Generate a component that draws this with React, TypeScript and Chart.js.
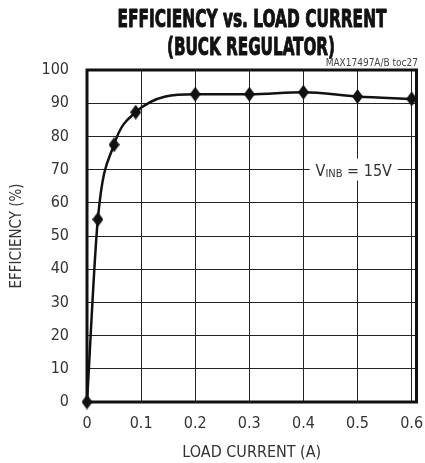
import React, { useEffect, useRef } from "react";
import { Chart, registerables } from "chart.js";

Chart.register(...registerables);

const loadCurrent = [0, 0.02, 0.05, 0.09, 0.2, 0.3, 0.4, 0.5, 0.6];
const efficiency = [0, 55, 77.5, 87.3, 92.7, 92.7, 93.3, 92, 91.3];
const xTicks = [0, 0.1, 0.2, 0.3, 0.4, 0.5, 0.6];
const yTicks = [0, 10, 20, 30, 40, 50, 60, 70, 80, 90, 100];
const titleLines = ["EFFICIENCY vs. LOAD CURRENT", "(BUCK REGULATOR)"];
const noteText = "MAX17497A/B toc27";

const NARROW = "'Liberation Sans Narrow', 'DejaVu Sans Condensed', 'Liberation Sans', sans-serif";

function makeDiamond(): HTMLCanvasElement {
  const c = document.createElement("canvas");
  c.width = 11;
  c.height = 15;
  const g = c.getContext("2d")!;
  g.fillStyle = "#111";
  g.beginPath();
  g.moveTo(5.5, 0);
  g.lineTo(11, 7.5);
  g.lineTo(5.5, 15);
  g.lineTo(0, 7.5);
  g.closePath();
  g.fill();
  return c;
}

function drawFitted(ctx: CanvasRenderingContext2D, text: string, cx: number, baseline: number, width: number) {
  const w = ctx.measureText(text).width;
  const s = width / w;
  ctx.save();
  ctx.translate(cx, baseline);
  ctx.scale(s, 1);
  ctx.textAlign = "center";
  ctx.textBaseline = "alphabetic";
  ctx.lineJoin = "round";
  ctx.lineWidth = 0.9;
  ctx.strokeText(text, 0, 0);
  ctx.fillText(text, 0, 0);
  ctx.restore();
}

const decorPlugin = {
  id: "decor",
  beforeDatasetsDraw(chart: any) {
    const { ctx, chartArea, scales } = chart;
    const { left, right, top, bottom } = chartArea;
    ctx.save();
    // annotation
    const y70 = scales.y.getPixelForValue(70);
    const cx = scales.x.getPixelForValue(0.493);
    ctx.fillStyle = "#fff";
    ctx.fillRect(cx - 44, y70 - 11, 88, 22);
    ctx.fillStyle = "#333";
    ctx.textBaseline = "alphabetic";
    ctx.textAlign = "left";
    const big = `16px ${NARROW}`;
    const small = `11px ${NARROW}`;
    ctx.font = big;
    const wV = ctx.measureText("V").width;
    ctx.font = small;
    const wSub = ctx.measureText("INB").width;
    ctx.font = big;
    const wRest = ctx.measureText(" = 15V").width;
    const total = wV + wSub + wRest;
    let x = cx - total / 2;
    const base = y70 + 6;
    ctx.fillText("V", x, base);
    x += wV;
    ctx.font = small;
    ctx.fillText("INB", x, base + 1);
    x += wSub;
    ctx.font = big;
    ctx.fillText(" = 15V", x, base);
    // border
    ctx.strokeStyle = "#111";
    ctx.lineWidth = 3;
    ctx.strokeRect(left, top, right - left, bottom - top);
    ctx.restore();
  },
  afterDraw(chart: any) {
    const { ctx } = chart;
    ctx.save();
    ctx.fillStyle = "#111";
    ctx.strokeStyle = "#111";
    ctx.font = `bold 24px ${NARROW}`;
    drawFitted(ctx, titleLines[0], 252, 27, 269);
    drawFitted(ctx, titleLines[1], 251, 55, 168);
    ctx.fillStyle = "#444";
    ctx.font = `10px ${NARROW}`;
    ctx.textAlign = "right";
    ctx.textBaseline = "alphabetic";
    ctx.fillText(noteText, 418, 66);
    ctx.restore();
  },
};

export default function App() {
  const ref = useRef<HTMLCanvasElement | null>(null);
  useEffect(() => {
    if (!ref.current) return;
    const diamond = makeDiamond();
    const chart = new Chart(ref.current, {
      type: "line",
      data: {
        datasets: [
          {
            data: loadCurrent.map((x, i) => ({ x, y: efficiency[i] })),
            borderColor: "#111",
            backgroundColor: "#111",
            borderWidth: 2.5,
            cubicInterpolationMode: "monotone",
            pointStyle: diamond as any,
            pointRadius: 6,
            clip: 20 as any,
          },
        ],
      },
      options: {
        animation: false,
        responsive: false,
        maintainAspectRatio: false,
        layout: { padding: { top: 70, right: 7, left: 0, bottom: 0 } },
        plugins: { legend: { display: false }, tooltip: { enabled: false }, title: { display: false } },
        scales: {
          x: {
            type: "linear",
            min: 0,
            max: 0.609,
            afterBuildTicks: (s: any) => {
              s.ticks = xTicks.map((v) => ({ value: v }));
            },
            afterFit: (s: any) => {
              s.height = 61;
              s.paddingLeft = 0;
              s.paddingRight = 0;
            },
            ticks: {
              includeBounds: false,
              padding: 12,
              color: "#333",
              font: { family: NARROW, size: 16 },
              callback: (v: any) => String(Math.round(Number(v) * 10) / 10),
            },
            grid: { color: "#222", lineWidth: 1, drawTicks: false },
            border: { display: false },
            title: {
              display: true,
              text: "LOAD CURRENT (A)",
              color: "#333",
              font: { family: NARROW, size: 16 },
              padding: { top: 0, bottom: 1 },
            },
          },
          y: {
            type: "linear",
            min: 0,
            max: 100,
            afterBuildTicks: (s: any) => {
              s.ticks = yTicks.map((v) => ({ value: v }));
            },
            afterFit: (s: any) => {
              s.width = 87;
              s.paddingTop = 0;
              s.paddingBottom = 0;
            },
            ticks: {
              padding: 18,
              color: "#333",
              font: { family: NARROW, size: 16 },
            },
            grid: { color: "#222", lineWidth: 1, drawTicks: false },
            border: { display: false },
            title: {
              display: true,
              text: "EFFICIENCY (%)",
              color: "#333",
              font: { family: NARROW, size: 15 },
              padding: { top: 8, bottom: 0 },
            },
          },
        },
      },
      plugins: [decorPlugin],
    });
    return () => chart.destroy();
  }, []);
  return (
    <div style={{ position: "absolute", left: 0, top: 0, width: 425, height: 463, background: "#fff" }}>
      <canvas ref={ref} width={425} height={463} style={{ display: "block", width: 425, height: 463 }} />
    </div>
  );
}
